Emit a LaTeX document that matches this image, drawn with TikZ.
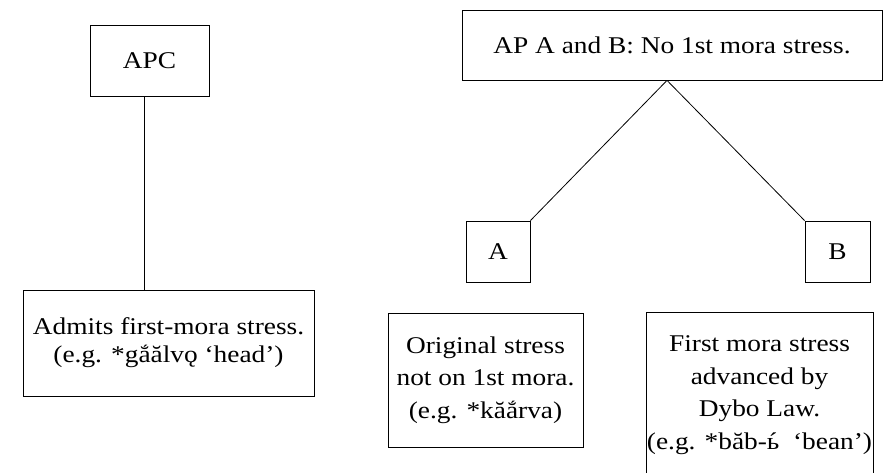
\documentclass[tikz,border=0pt]{standalone}
\usepackage{fontspec}
\setmainfont[FakeStretch=1.14]{Liberation Serif}
\newcommand\softacute{\setbox0\hbox{ь}\rlap{ь}\hbox to\wd0{\hss\char"00B4\hss}}
\begin{document}
\begin{tikzpicture}[x=1pt,y=-1pt,
  box/.style={draw,line width=0.8pt,rectangle,inner sep=0pt,align=center,
    font=\fontsize{24}{28}\selectfont},
  widebox/.style={box,font=\fontsize{24}{32.5}\selectfont},
  link/.style={line width=0.8pt}]
\useasboundingbox (0,0) rectangle (886,472);
\clip (0,0) rectangle (886,472);
\node[box,minimum width=119pt,minimum height=71pt] (apc) at (149.5,60.5) {APC};
\node[box,minimum width=291pt,minimum height=106pt] (adm) at (168.5,343)
  {Admits first-mora stress.\\(e.g. *gắălvǫ ‘head’)};
\node[box,minimum width=420pt,minimum height=70pt] (ap) at (672,45)
  {AP A and B: No 1st mora stress.};
\node[box,minimum width=64pt,minimum height=61pt] (a) at (498,251.5) {A};
\node[box,minimum width=65pt,minimum height=61pt] (b) at (837.5,251.5) {B};
\node[widebox,minimum width=195pt,minimum height=134pt] (orig) at (485.5,380)
  {Original stress\\not on 1st mora.\\(e.g. *kăắrva)};
\node[widebox,minimum width=227pt,minimum height=166pt] (first) at (759.5,395)
  {First mora stress\\advanced by\\Dybo Law.\\(e.g. *băb-\softacute\ \ ‘bean’)};
\draw[link] ([xshift=-5.5pt]apc.south) -- ([xshift=-5.5pt]apc.south |- adm.north);
\draw[link] ([xshift=-5pt]ap.south) -- (a.north east);
\draw[link] ([xshift=-5pt]ap.south) -- (b.north west);
\end{tikzpicture}
\end{document}
